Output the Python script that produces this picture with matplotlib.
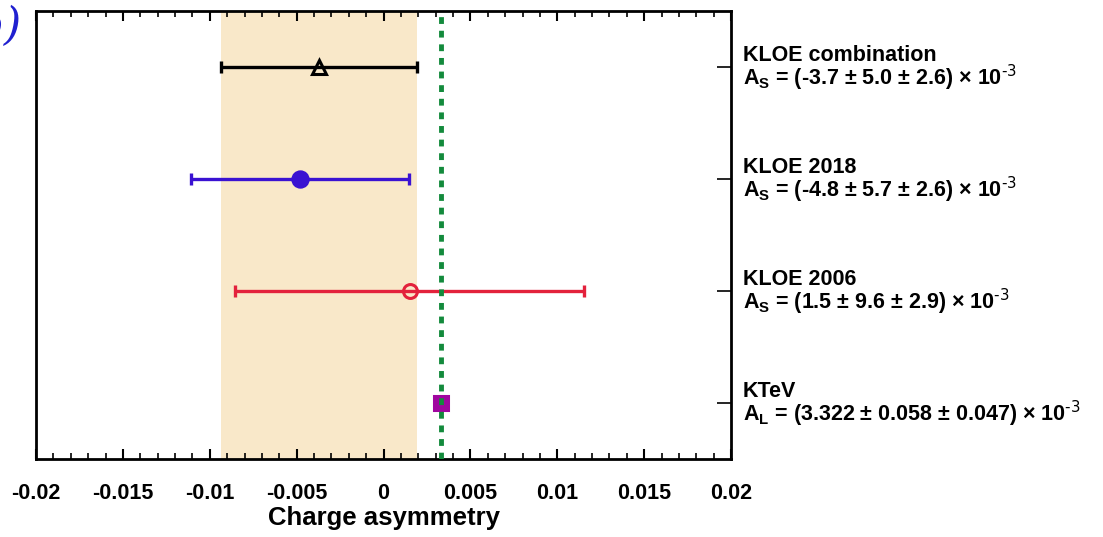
import matplotlib
matplotlib.use('Agg')
import matplotlib.pyplot as plt
import numpy as np
from matplotlib.ticker import MultipleLocator

plt.rcParams['font.family'] = ['Liberation Sans', 'DejaVu Sans']
plt.rcParams['mathtext.default'] = 'regular'

# measurements, top to bottom (values in units of 1e-3)
names = ['KLOE combination', 'KLOE 2018', 'KLOE 2006', 'KTeV']
symbols = ['S', 'S', 'S', 'L']
central = [-3.7, -4.8, 1.5, 3.322]
stat = [5.0, 5.7, 9.6, 0.058]
syst = [2.6, 2.6, 2.9, 0.047]
value_text = ['-3.7 ± 5.0 ± 2.6', '-4.8 ± 5.7 ± 2.6', '1.5 ± 9.6 ± 2.9', '3.322 ± 0.058 ± 0.047']
rows = [3.5, 2.5, 1.5, 0.5]

colors = ['black', '#3a12d2', '#e3223c', '#a0069f']
markers = ['^', 'o', 'o', 's']
filled = [False, True, False, True]
msizes = [10, 11, 10, 10]


def main():
    fig = plt.figure(figsize=(11.03, 5.37), dpi=100)
    ax = fig.add_axes([36 / 1103, 1 - 459 / 537, 695 / 1103, 448 / 537])

    x = np.array(central) * 1e-3
    err = np.sqrt(np.array(stat) ** 2 + np.array(syst) ** 2) * 1e-3

    # combined KLOE band
    ax.axvspan(x[0] - err[0], x[0] + err[0], color='#f9e8c9', lw=0, zorder=0)

    for i in range(len(names)):
        fc = colors[i] if filled[i] else 'none'
        if i < 3:
            ax.errorbar(x[i], rows[i], xerr=err[i], fmt='none', ecolor=colors[i],
                        elinewidth=2.4, capsize=4, capthick=2.4, zorder=3)
        ax.plot(x[i], rows[i], marker=markers[i], ms=msizes[i], mfc=fc,
                mec=colors[i], mew=2.2, ls='none', zorder=4)
        ax.text(1.017, rows[i] / 4 + 0.0145, names[i], transform=ax.transAxes,
                fontsize=15.5, fontweight='bold', ha='left', va='baseline')
        ax.text(1.017, rows[i] / 4 - 0.040,
                r'A$_{%s}$ = (%s) × 10$^{\text{-3}}$' % (symbols[i], value_text[i]),
                transform=ax.transAxes, fontsize=15.5, fontweight='bold',
                ha='left', va='baseline')

    # KTeV central value as a reference line
    ax.axvline(x[3], color='#138a3c', lw=3.5, ls=(0, (1.4, 1.4)), zorder=5)

    ax.set_xlim(-0.02, 0.02)
    ax.set_ylim(0, 4)
    ax.xaxis.set_minor_locator(MultipleLocator(0.001))
    ax.set_xticks([-0.02, -0.015, -0.01, -0.005, 0, 0.005, 0.01, 0.015, 0.02])
    ax.set_xticklabels(['-0.02', '-0.015', '-0.01', '-0.005', '0', '0.005',
                        '0.01', '0.015', '0.02'], fontsize=15.5, fontweight='bold')
    ax.tick_params(axis='x', which='major', direction='in', length=7, width=1.5,
                   top=True, pad=17)
    ax.tick_params(axis='x', which='minor', direction='in', length=4, width=1.2,
                   top=True)
    ax.set_yticks(rows)
    ax.set_yticklabels([])
    ax.tick_params(axis='y', which='major', direction='in', length=10, width=1.2,
                   left=False, right=True)
    for s in ax.spines.values():
        s.set_linewidth(2)
    ax.set_xlabel('Charge asymmetry', fontsize=18.5, fontweight='bold', labelpad=2)

    # panel letter, cut at the left border
    fig.text(22 / 1103, 1 - 5 / 537, '(b)', fontsize=32, style='italic',
             family='DejaVu Serif', color='#2020d0', ha='right', va='top')

    fig.savefig('out.png', dpi=100)


if __name__ == '__main__':
    main()
